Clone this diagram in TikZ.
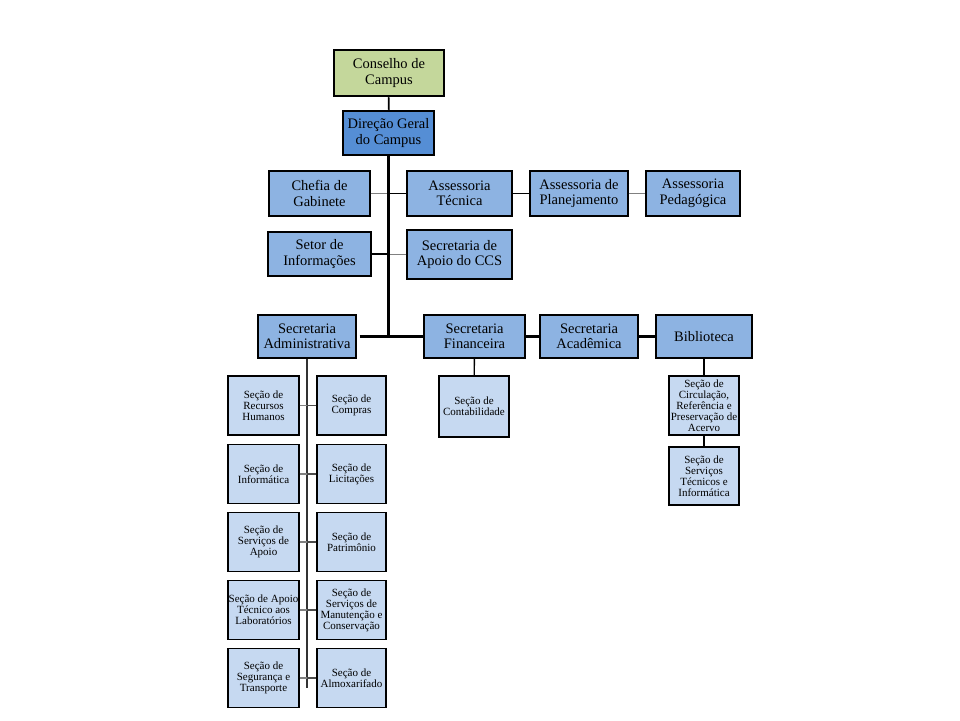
\documentclass[tikz,border=0pt]{standalone}
\usepackage{fontspec}
\setmainfont{Liberation Serif}
\usepackage{tikz}
\definecolor{consgreen}{HTML}{C4D79B}
\definecolor{dirblue}{HTML}{558ED5}
\definecolor{lvlblue}{HTML}{8DB3E2}
\definecolor{secblue}{HTML}{C6D9F1}
\definecolor{lgray}{HTML}{808080}
\tikzset{
  box/.style = {draw, line width=1.2pt, align=center, inner sep=0pt,
                font=\fontsize{14.5}{15.5}\selectfont},
  lvl/.style = {box, fill=lvlblue},
  top/.style = {box, line width=2.5pt, minimum width=#1},
  sec/.style = {draw, line width=1.2pt, fill=secblue, align=center, inner sep=0pt,
                minimum width=70, minimum height=59,
                font=\fontsize{11}{11}\selectfont},
  link/.style = {line width=1.4pt},
  trunk/.style = {line width=3pt}
}

\begin{document}
\begin{tikzpicture}[x=1pt, y=-1pt]
 \useasboundingbox (0,0) rectangle (960,720);
 % top of the chart
 \node[top=110, minimum height=46, fill=consgreen] (cons) at (389,73) {Conselho de\\Campus};
 \node[top=91, minimum height=44, fill=dirblue] (dir) at (388.5,133) {Direção Geral\\do Campus};
 \node[lvl, minimum width=101, minimum height=45] (chefia) at (319.5,193.5) {Chefia de\\Gabinete};
 \node[lvl, minimum width=105, minimum height=45] (tec) at (459.5,193.5) {Assessoria\\Técnica};
 \node[lvl, minimum width=98, minimum height=45] (plan) at (579,193.5) {Assessoria de\\Planejamento};
 \node[lvl, minimum width=94, minimum height=45] (ped) at (693,193.5) {Assessoria\\Pedagógica};
 \node[lvl, minimum width=103, minimum height=44] (setor) at (319.5,254) {Setor de\\Informações};
 \node[lvl, minimum width=105, minimum height=49] (ccs) at (459.5,254.5) {Secretaria de\\Apoio do CCS};
 % secretarias
 \node[lvl, minimum width=98, minimum height=43] (adm) at (307,336.5) {Secretaria\\Administrativa};
 \node[lvl, minimum width=101, minimum height=43] (fin) at (474.5,336.5) {Secretaria\\Financeira};
 \node[lvl, minimum width=98, minimum height=43] (acad) at (589,336.5) {Secretaria\\Acadêmica};
 \node[lvl, minimum width=96, minimum height=43] (bib) at (704,336.5) {Biblioteca};
 % secoes
 \node[sec, minimum height=61] (contab) at (474,406.5) {Seção de\\Contabilidade};
 \node[sec] (circ) at (704,405.5) {Seção de\\Circulação,\\Referência e\\Preservação de\\Acervo};
 \node[sec, minimum height=58] (stec) at (704,476) {Seção de\\Serviços\\Técnicos e\\Informática};
 \foreach \n/\y/\l/\r in {1/405.5/{Seção de\\Recursos\\Humanos}/{Seção de\\Compras},
     2/474/{Seção de\\Informática}/{Seção de\\Licitações},
     3/542/{Seção de\\Serviços de\\Apoio}/{Seção de\\Patrimônio},
     4/610/{Seção de Apoio\\Técnico aos\\Laboratórios}/{Seção de\\Serviços de\\Manutenção e\\Conservação},
     5/678/{Seção de\\Segurança e\\Transporte}/{Seção de\\Almoxarifado}} {
   \node[sec, minimum width=71] (l\n) at (263.5,\y) {\l};
   \node[sec, minimum width=69] (r\n) at (351.5,\y) {\r};
 }
 \coordinate (admend) at (307,688);

 % connectors
 \draw[line width=1.8pt] (cons) -- (dir);
 \draw[link, lgray] (chefia.east) -- (chefia.east -| dir.south);
 \draw[link] (tec.west) -- (tec.west -| dir.south);
 \draw[link] (tec) -- (plan);
 \draw[link, lgray] (plan) -- (ped);
 \draw[link] (setor.east) -- (setor.east -| dir.south);
 \draw[link, lgray] (ccs.west) -- (ccs.west -| dir.south);
 \draw[trunk] (dir.south) -- (adm.east -| dir.south);
 \draw[trunk] (adm.east) ++(3,0) -- (fin.west);
 \draw[trunk] (fin) -- (acad);
 \draw[trunk] (acad) -- (bib);
 \draw[link] (fin) -- (contab);
 \draw[link] (bib) -- (circ);
 \draw[link] (circ) -- (stec);
 \draw[link, black!80] (adm.south) -- (admend);
 \foreach \n in {1,...,5} {
   \draw[link, lgray] (l\n.east) -- (l\n.east -| adm.south);
   \draw[link, black!70] (r\n.west) -- (r\n.west -| adm.south);
 }
\end{tikzpicture}
\end{document}
